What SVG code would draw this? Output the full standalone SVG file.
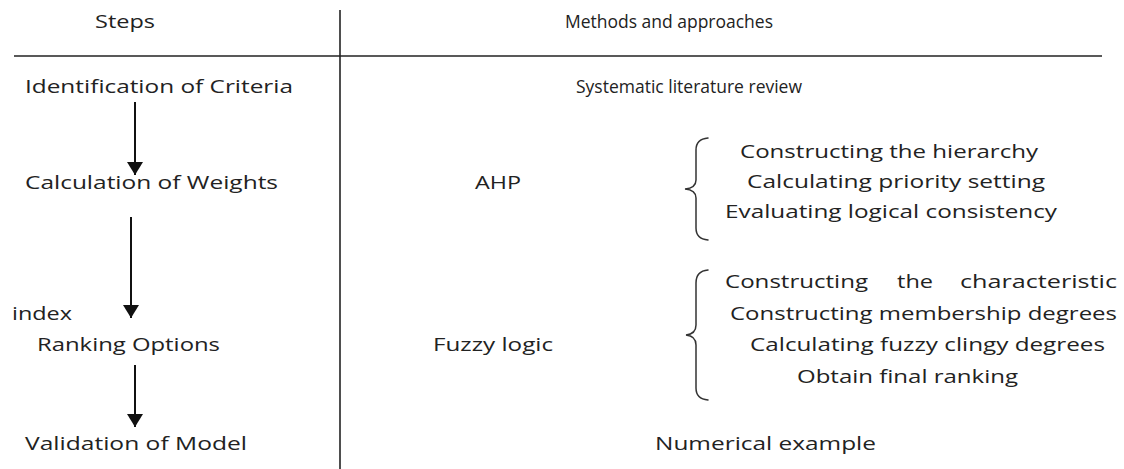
<svg xmlns="http://www.w3.org/2000/svg" width="1124" height="469" viewBox="0 0 1124 469">
<style>
text{font-family:"Open Sans","Liberation Sans",sans-serif;font-size:18.5px;fill:#222;}
.rule{stroke:#222;stroke-width:1.6;fill:none;}
.arrow{stroke:#111;stroke-width:2;fill:none;marker-end:url(#head);}
.brace{stroke:#333;stroke-width:1.5;fill:none;stroke-linecap:round;}
</style>
<defs>
<marker id="head" viewBox="0 0 13 16" refX="13" refY="8" markerWidth="13" markerHeight="16" markerUnits="userSpaceOnUse" orient="auto">
<path d="M0,0 L13,8 L0,16 z" fill="#111"/>
</marker>
</defs>
<rect width="1124" height="469" fill="#fff"/>
<g id="table-rules">
<line class="rule" x1="340" y1="10" x2="340" y2="469"/>
<line class="rule" x1="14" y1="56" x2="1102" y2="56"/>
</g>
<g id="headers">
<text x="95" y="28" textLength="60" lengthAdjust="spacingAndGlyphs">Steps</text>
<text x="565" y="28" textLength="208" lengthAdjust="spacingAndGlyphs">Methods and approaches</text>
</g>
<g id="step-identification"><text x="25" y="93" textLength="268" lengthAdjust="spacingAndGlyphs">Identification of Criteria</text></g>
<g id="step-weights"><text x="25" y="189" textLength="253" lengthAdjust="spacingAndGlyphs">Calculation of Weights</text></g>
<g id="index-label"><text x="12" y="320" textLength="60" lengthAdjust="spacingAndGlyphs">index</text></g>
<g id="step-ranking"><text x="37" y="351" textLength="183" lengthAdjust="spacingAndGlyphs">Ranking Options</text></g>
<g id="step-validation"><text x="25" y="450" textLength="222" lengthAdjust="spacingAndGlyphs">Validation of Model</text></g>
<g id="method-slr"><text x="576" y="93" textLength="226" lengthAdjust="spacingAndGlyphs">Systematic literature review</text></g>
<g id="method-ahp">
<text x="475" y="189" textLength="46" lengthAdjust="spacingAndGlyphs">AHP</text>
<path class="brace" d="M708,138 Q696,139 696,150 L696,180 Q696,188 685,189 Q696,190 696,198 L696,228 Q696,239 708,240"/>
<text x="740" y="158" textLength="298" lengthAdjust="spacingAndGlyphs">Constructing the hierarchy</text>
<text x="747" y="188" textLength="298" lengthAdjust="spacingAndGlyphs">Calculating priority setting</text>
<text x="725" y="218" textLength="332" lengthAdjust="spacingAndGlyphs">Evaluating logical consistency</text>
</g>
<g id="method-fuzzy">
<text x="433" y="351" textLength="120" lengthAdjust="spacingAndGlyphs">Fuzzy logic</text>
<path class="brace" d="M708,270 Q696,271 696,283 L696,325 Q696,334 686,335 Q696,336 696,345 L696,388 Q696,399 708,400"/>
<text x="725" y="288" textLength="143" lengthAdjust="spacingAndGlyphs">Constructing</text>
<text x="897" y="288" textLength="36" lengthAdjust="spacingAndGlyphs">the</text>
<text x="960" y="288" textLength="157" lengthAdjust="spacingAndGlyphs">characteristic</text>
<text x="730" y="320" textLength="387" lengthAdjust="spacingAndGlyphs">Constructing membership degrees</text>
<text x="750" y="351" textLength="355" lengthAdjust="spacingAndGlyphs">Calculating fuzzy clingy degrees</text>
<text x="797" y="383" textLength="221" lengthAdjust="spacingAndGlyphs">Obtain final ranking</text>
</g>
<g id="method-numerical"><text x="655" y="450" textLength="221" lengthAdjust="spacingAndGlyphs">Numerical example</text></g>
<g id="connectors">
<line class="arrow" x1="135" y1="102" x2="135" y2="175"/>
<line class="arrow" x1="131" y1="217" x2="131" y2="318"/>
<line class="arrow" x1="135" y1="365" x2="135" y2="427"/>
</g>
</svg>
